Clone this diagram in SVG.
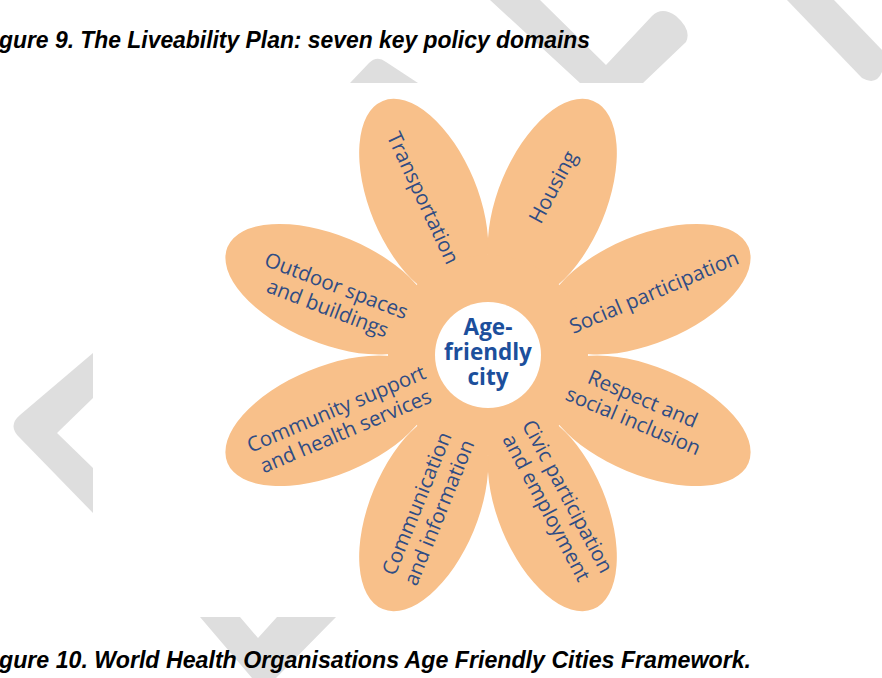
<svg xmlns="http://www.w3.org/2000/svg" width="882" height="678" viewBox="0 0 882 678">
  <style>
    .wm { fill: #DEDEDE; }
    .petal { fill: #F8C08A; }
    .lbl { font-family: "Open Sans", "Noto Sans", sans-serif; font-size: 20.5px; fill: #2F4C84; text-anchor: middle; }
    .ctr { font-family: "Open Sans", "Noto Sans", sans-serif; font-size: 22.5px; font-weight: 700; fill: #1C4F9C; text-anchor: middle; }
    .cap { font-family: "Liberation Sans", "Arial", sans-serif; font-size: 24px; font-weight: 700; font-style: italic; fill: #000; }
  </style>
  <rect width="882" height="678" fill="#FFFFFF"/>
  <g id="watermark">
    <path class="wm" d="M350,83 L369,63 Q377,55 386,62 L418,83 Z"/>
    <path class="wm" d="M490,0 L540,0 L606,65 L652,16 Q662,6 676,16 Q692,30 686,42 L643,83 L580,83 Z"/>
    <path class="wm" d="M787,0 L834,0 L882,50 L882,72 Q876,86 862,78 Z"/>
    <path class="wm" d="M93,353 L20,415 Q7,426 20,438 L93,513 L93,468 L57,433 L93,398 Z"/>
    <path class="wm" d="M200,617 L240,617 L258,638 L277,617 L336,617 L276,678 L252,678 Z"/>
  </g>
  <rect x="93" y="83" width="789" height="534" fill="#FFFFFF"/>
  <text class="cap" x="-1" y="48" textLength="591" lengthAdjust="spacingAndGlyphs">gure 9. The Liveability Plan: seven key policy domains</text>
  <text class="cap" x="-1" y="668" textLength="752" lengthAdjust="spacingAndGlyphs">gure 10. World Health Organisations Age Friendly Cities Framework.</text>
  <g id="flower">
    <g id="petals" transform="translate(488,355)">
      <ellipse class="petal" cx="168" cy="0" rx="107" ry="54" transform="rotate(247.5)"/>
      <ellipse class="petal" cx="168" cy="0" rx="107" ry="54" transform="rotate(292.5)"/>
      <ellipse class="petal" cx="172" cy="0" rx="110" ry="54" transform="rotate(337.5)"/>
      <ellipse class="petal" cx="172" cy="0" rx="110" ry="54" transform="rotate(22.5)"/>
      <ellipse class="petal" cx="168" cy="0" rx="107" ry="54" transform="rotate(67.5)"/>
      <ellipse class="petal" cx="168" cy="0" rx="107" ry="54" transform="rotate(112.5)"/>
      <ellipse class="petal" cx="172" cy="0" rx="110" ry="54" transform="rotate(157.5)"/>
      <ellipse class="petal" cx="172" cy="0" rx="110" ry="54" transform="rotate(202.5)"/>
      <circle class="petal" cx="0" cy="0" r="100"/>
    </g>
    <g id="center">
      <circle cx="488" cy="355" r="53" fill="#FFFFFF"/>
      <text class="ctr" x="488" y="335"><tspan x="488" y="335">Age-</tspan><tspan x="488" y="360">friendly</tspan><tspan x="488" y="385">city</tspan></text>
    </g>
    <g id="transportation" transform="translate(423,198) rotate(65)">
      <text class="lbl" x="0" y="7">Transportation</text>
    </g>
    <g id="housing" transform="translate(553,187) rotate(-62)">
      <text class="lbl" x="0" y="7">Housing</text>
    </g>
    <g id="outdoor" transform="translate(332,297) rotate(21)">
      <text class="lbl" x="0" y="-5">Outdoor spaces</text>
      <text class="lbl" x="0" y="19">and buildings</text>
    </g>
    <g id="social" transform="translate(654,292) rotate(-23)">
      <text class="lbl" x="0" y="7">Social participation</text>
    </g>
    <g id="community" transform="translate(341,420) rotate(-23)">
      <text class="lbl" x="0" y="-5">Community support</text>
      <text class="lbl" x="0" y="19">and health services</text>
    </g>
    <g id="respect" transform="translate(638,410) rotate(23)">
      <text class="lbl" x="0" y="-5">Respect and</text>
      <text class="lbl" x="0" y="19">social inclusion</text>
    </g>
    <g id="communication" transform="translate(428,508) rotate(-68)">
      <text class="lbl" x="0" y="-5">Communication</text>
      <text class="lbl" x="0" y="19">and information</text>
    </g>
    <g id="civic" transform="translate(557,502) rotate(62)">
      <text class="lbl" x="0" y="-5">Civic participation</text>
      <text class="lbl" x="0" y="19">and employment</text>
    </g>
  </g>
  <g id="connectors"/>
</svg>
